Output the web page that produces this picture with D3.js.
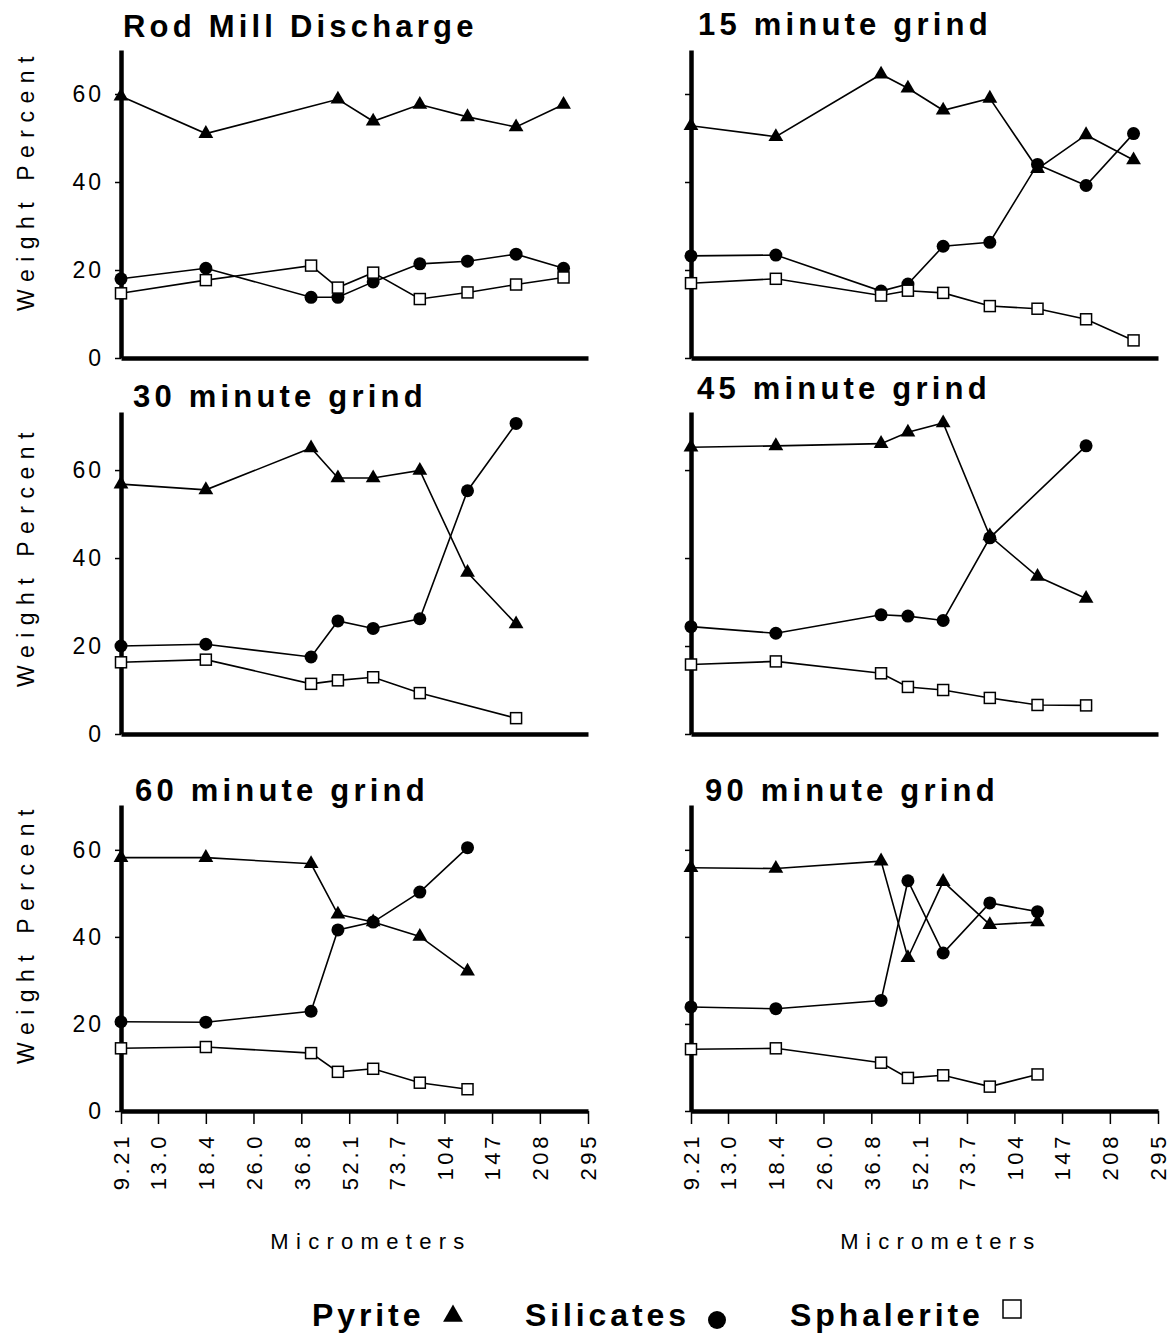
<!DOCTYPE html>
<html>
<head>
<meta charset="utf-8">
<script src="https://cdn.jsdelivr.net/npm/d3@7"></script>
<style>
  body { margin: 0; background: #fff; }
  svg { display: block; font-family: 'Liberation Sans', Arial, Helvetica, sans-serif; }
</style>
</head>
<body>
<div id="app"></div>
<script>
// sieve fractions (micrometers) where the points sit
const sizes = [9.21, 18.4, 39.5, 48, 62, 87, 123, 175, 247]
const xTicks = [9.21, 13.0, 18.4, 26.0, 36.8, 52.1, 73.7, 104, 147, 208, 295]
const xTickLabels = ['9.21', '13.0', '18.4', '26.0', '36.8', '52.1', '73.7', '104', '147', '208', '295']
const yTicks = [0, 20, 40, 60]
const titles = ['Rod Mill Discharge', '15 minute grind', '30 minute grind', '45 minute grind', '60 minute grind', '90 minute grind']

// weight percent, one value per size fraction (null = not plotted)
const pyriteRod = [59.5, 51.0, null, 58.8, 53.8, 57.6, 54.8, 52.5, 57.6]
const pyrite15 = [52.8, 50.3, 64.5, 61.3, 56.3, 59.0, 43.0, 50.7, 45.0]
const pyrite30 = [56.8, 55.5, 65.0, 58.2, 58.2, 59.9, 36.7, 25.0]
const pyrite45 = [65.2, 65.5, 66.0, 68.6, 70.7, 45.0, 35.8, 30.8]
const pyrite60 = [58.2, 58.2, 56.8, 45.2, 43.4, 40.1, 32.1]
const pyrite90 = [55.9, 55.7, 57.4, 35.2, 52.7, 42.8, 43.4]

const silicatesRod = [18.0, 20.4, 13.8, 13.8, 17.3, 21.4, 22.0, 23.6, 20.4]
const silicates15 = [23.2, 23.4, 15.2, 16.8, 25.4, 26.3, 44.0, 39.2, 51.0]
const silicates30 = [20.0, 20.4, 17.5, 25.7, 24.0, 26.2, 55.3, 70.6]
const silicates45 = [24.4, 22.9, 27.1, 26.8, 25.8, 44.6, null, 65.5]
const silicates60 = [20.5, 20.4, 22.9, 41.6, 43.4, 50.3, 60.5]
const silicates90 = [23.9, 23.5, 25.4, 52.9, 36.3, 47.8, 45.8]

const sphaleriteRod = [14.7, 17.7, 21.0, 16.0, 19.4, 13.4, 14.9, 16.7, 18.3]
const sphalerite15 = [17.0, 18.0, 14.2, 15.3, 14.8, 11.8, 11.2, 8.8, 4.0]
const sphalerite30 = [16.3, 16.9, 11.4, 12.2, 12.9, 9.3, null, 3.6]
const sphalerite45 = [15.8, 16.5, 13.8, 10.7, 10.0, 8.2, 6.6, 6.5]
const sphalerite60 = [14.4, 14.7, 13.3, 9.0, 9.7, 6.5, 5.0]
const sphalerite90 = [14.2, 14.4, 11.1, 7.6, 8.2, 5.6, 8.4]

const pyrite = [pyriteRod, pyrite15, pyrite30, pyrite45, pyrite60, pyrite90]
const silicates = [silicatesRod, silicates15, silicates30, silicates45, silicates60, silicates90]
const sphalerite = [sphaleriteRod, sphalerite15, sphalerite30, sphalerite45, sphalerite60, sphalerite90]

// layout
const W = 1172
const H = 1335
const colX = [121, 691]
const rowZero = [358, 734, 1111]
const rowTop = [50, 412, 805]
const rowMax = [70, 73.2, 70.3]
const titlePos = [[123, 37], [698, 35], [133, 407], [697, 399], [135, 801], [705, 801]]

const svg = d3.select('#app').append('svg')
  .attr('width', W)
  .attr('height', H)

const font = "'Liberation Sans', Arial, Helvetica, sans-serif"

titles.forEach(function (title, i) {
  const col = i % 2
  const row = Math.floor(i / 2)
  const x0 = colX[col]
  const xScale = d3.scaleLog()
    .domain([9.21, 13, 295])
    .range([x0, x0 + 37, x0 + 467])
  const yScale = d3.scaleLinear()
    .domain([0, rowMax[row]])
    .range([rowZero[row], rowTop[row]])

  const g = svg.append('g')

  // title
  g.append('text')
    .attr('x', titlePos[i][0])
    .attr('y', titlePos[i][1])
    .style('font-size', '31px')
    .style('font-weight', 'bold')
    .style('letter-spacing', '4.2px')
    .text(title)

  // y axis
  const yAxis = d3.axisLeft(yScale)
    .tickValues(yTicks)
    .tickSize(6)
    .tickSizeOuter(0)
    .tickPadding(11)
    .tickFormat(col === 0 ? d3.format('d') : '')
  const ya = g.append('g')
    .attr('transform', 'translate(' + x0 + ',0)')
    .call(yAxis)
  ya.select('.domain').attr('stroke-width', 4.5).attr('stroke', '#000')
  ya.selectAll('.tick line').attr('stroke-width', 1.5)
  ya.selectAll('.tick text')
    .style('font-size', '23px')
    .style('letter-spacing', '3px')
    .style('font-family', font)
    .attr('fill', '#000')

  if (col === 0) {
    g.append('text')
      .attr('transform', 'translate(34,' + (rowZero[row] - 178) + ') rotate(-90)')
      .attr('text-anchor', 'middle')
      .style('font-size', '23px')
      .style('letter-spacing', '7.5px')
      .text('Weight Percent')
  }

  // x axis
  const bottom = row === 2
  const xAxis = d3.axisBottom(xScale)
    .tickValues(bottom ? xTicks : [])
    .tickSize(13)
    .tickSizeOuter(0)
    .tickFormat(function (d, k) { return xTickLabels[k] })
  const xa = g.append('g')
    .attr('transform', 'translate(0,' + rowZero[row] + ')')
    .call(xAxis)
  xa.select('.domain').attr('stroke-width', 4.5).attr('stroke', '#000')
  xa.selectAll('.tick line').attr('stroke-width', 1.5)
  xa.selectAll('.tick text')
    .attr('transform', 'rotate(-90)')
    .attr('text-anchor', 'end')
    .attr('x', -22)
    .attr('y', 0)
    .attr('dy', '0.36em')
    .attr('fill', '#000')
    .style('font-size', '22px')
    .style('letter-spacing', '3.6px')
    .style('font-family', font)

  if (bottom) {
    g.append('text')
      .attr('x', x0 + 250)
      .attr('y', 1249)
      .attr('text-anchor', 'middle')
      .style('font-size', '22px')
      .style('letter-spacing', '7.3px')
      .text('Micrometers')
  }

  // series
  const series = [
    { name: 'Pyrite', values: pyrite[i], type: 'triangle' },
    { name: 'Silicates', values: silicates[i], type: 'circle' },
    { name: 'Sphalerite', values: sphalerite[i], type: 'square' }
  ]
  const line = d3.line()
    .x(d => xScale(d.size))
    .y(d => yScale(d.value))

  series.forEach(function (s) {
    s.points = s.values
      .map((v, k) => ({ size: sizes[k], value: v }))
      .filter(d => d.value !== null)
    g.append('path')
      .datum(s.points)
      .attr('fill', 'none')
      .attr('stroke', '#000')
      .attr('stroke-width', 1.6)
      .attr('d', line)
  })

  series.forEach(function (s) {
    const marks = g.selectAll(null)
      .data(s.points)
      .enter()
    if (s.type === 'triangle') {
      marks.append('path')
        .attr('d', d3.symbol().type(d3.symbolTriangle).size(95))
        .attr('transform', d => 'translate(' + xScale(d.size) + ',' + yScale(d.value) + ')')
        .attr('fill', '#000')
    } else if (s.type === 'circle') {
      marks.append('circle')
        .attr('cx', d => xScale(d.size))
        .attr('cy', d => yScale(d.value))
        .attr('r', 6.5)
        .attr('fill', '#000')
    } else {
      marks.append('rect')
        .attr('x', d => xScale(d.size) - 5.5)
        .attr('y', d => yScale(d.value) - 5.5)
        .attr('width', 11)
        .attr('height', 11)
        .attr('fill', '#fff')
        .attr('stroke', '#000')
        .attr('stroke-width', 1.5)
    }
  })
})

// legend
const legend = svg.append('g')
  .style('font-size', '32px')
  .style('font-weight', 'bold')
  .style('letter-spacing', '3.9px')
legend.append('text').attr('x', 312).attr('y', 1326).text('Pyrite')
legend.append('path')
  .attr('d', d3.symbol().type(d3.symbolTriangle).size(170))
  .attr('transform', 'translate(453,1316)')
  .attr('fill', '#000')
legend.append('text').attr('x', 525).attr('y', 1326).text('Silicates')
legend.append('circle')
  .attr('cx', 717).attr('cy', 1320).attr('r', 9)
  .attr('fill', '#000')
legend.append('text').attr('x', 790).attr('y', 1326).text('Sphalerite')
legend.append('rect')
  .attr('x', 1003).attr('y', 1300).attr('width', 18).attr('height', 18)
  .attr('fill', '#fff').attr('stroke', '#000').attr('stroke-width', 1.5)
</script>
</body>
</html>
